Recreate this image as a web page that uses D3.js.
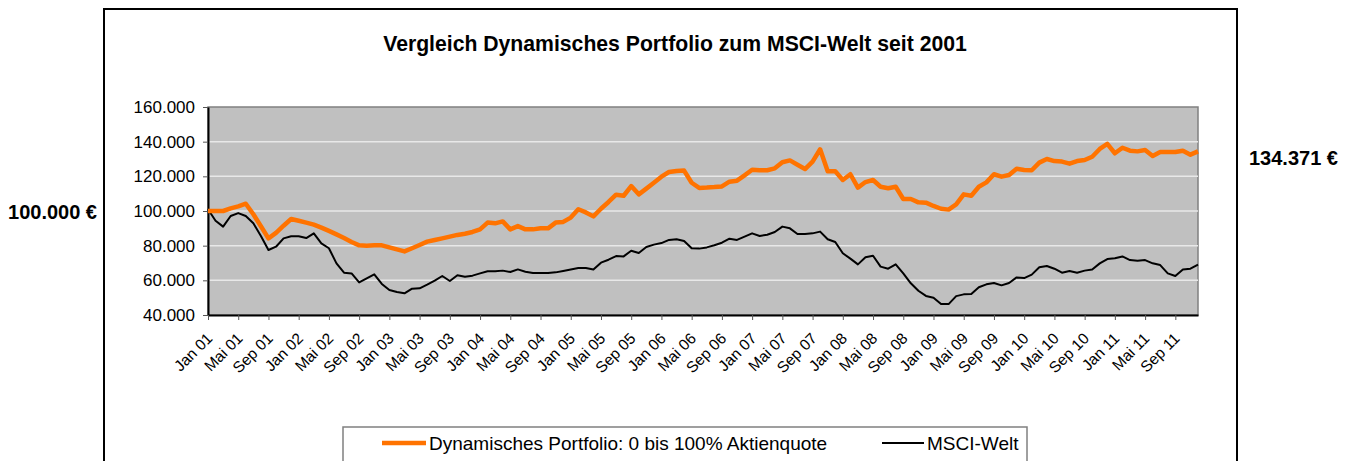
<!DOCTYPE html>
<html>
<head>
<meta charset="utf-8">
<script src="https://cdn.jsdelivr.net/npm/d3@7"></script>
<style>
  body { margin: 0; background: #fff; }
  text { font-family: Arial, "Liberation Sans", sans-serif; }
</style>
</head>
<body>
<div id="chart"></div>
<script>
// monthly values Jan 2001 - Dec 2011 (in thousand €)
var dynPortfolio = [
  100.0, 100.0, 100.0, 101.5, 102.7, 104.2, 98.1, 91.2, 84.2, 87.4,
  91.5, 95.4, 94.4, 93.3, 92.1, 90.4, 88.5, 86.5, 84.4, 82.1,
  80.2, 80.0, 80.2, 80.2, 79.0, 77.9, 76.7, 78.5, 80.4, 82.3,
  83.3, 84.2, 85.2, 86.2, 86.9, 87.9, 89.4, 93.3, 92.9, 94.0,
  89.4, 91.3, 89.4, 89.4, 90.0, 90.0, 93.3, 93.7, 96.2, 101.0,
  99.2, 96.9, 101.3, 105.2, 109.4, 108.8, 114.4, 109.6, 112.9, 116.3,
  119.8, 122.5, 123.1, 123.3, 116.3, 113.3, 113.5, 113.8, 114.2, 116.9,
  117.5, 120.6, 123.8, 123.5, 123.5, 124.6, 128.1, 129.2, 126.7, 124.2,
  128.5, 135.6, 122.9, 122.9, 117.9, 121.2, 113.5, 116.7, 117.9, 114.0,
  113.1, 114.0, 106.9, 106.9, 105.0, 104.8, 102.9, 101.3, 100.8, 103.8,
  109.6, 108.8, 114.0, 116.5, 121.2, 119.8, 120.8, 124.4, 123.7, 123.5,
  127.9, 130.0, 128.8, 128.5, 127.3, 128.8, 129.4, 131.3, 135.8, 138.7,
  133.3, 136.5, 134.8, 134.4, 135.2, 131.7, 134.0, 134.0, 134.0, 134.8,
  132.5, 134.371
];

var msciWelt = [
  101.0, 94.4, 91.0, 97.1, 98.8, 97.1, 92.9, 85.6, 77.5, 79.4,
  84.2, 85.4, 85.4, 84.4, 87.1, 81.3, 78.5, 69.8, 64.4, 64.0,
  58.8, 61.2, 63.5, 57.9, 54.4, 53.3, 52.5, 55.2, 55.4, 57.5,
  59.8, 62.5, 59.6, 62.9, 62.1, 62.7, 64.0, 65.2, 65.2, 65.6,
  64.8, 66.3, 65.0, 64.2, 64.2, 64.2, 64.6, 65.4, 66.3, 67.1,
  67.1, 66.2, 70.2, 71.9, 74.0, 73.8, 77.1, 75.8, 79.2, 80.6,
  81.5, 83.3, 83.7, 82.7, 78.5, 78.3, 79.0, 80.2, 81.7, 84.0,
  83.3, 85.2, 87.1, 85.6, 86.3, 87.9, 91.0, 90.0, 86.7, 86.7,
  87.1, 88.1, 83.7, 82.1, 75.6, 72.5, 69.2, 73.3, 74.2, 67.9,
  66.7, 69.2, 64.0, 58.3, 54.0, 51.0, 50.0, 46.3, 46.3, 50.9,
  51.9, 52.1, 56.0, 57.7, 58.5, 57.1, 58.5, 61.7, 61.3, 63.3,
  67.5, 68.3, 66.7, 64.4, 65.4, 64.4, 65.6, 66.3, 69.8, 72.3,
  72.7, 73.8, 71.7, 71.3, 71.7, 69.8, 68.8, 64.0, 62.5, 66.3,
  66.7, 69.0
];

var tickLabels = [
  "Jan 01", "Mai 01", "Sep 01", "Jan 02", "Mai 02", "Sep 02", "Jan 03", "Mai 03", "Sep 03",
  "Jan 04", "Mai 04", "Sep 04", "Jan 05", "Mai 05", "Sep 05", "Jan 06", "Mai 06", "Sep 06",
  "Jan 07", "Mai 07", "Sep 07", "Jan 08", "Mai 08", "Sep 08", "Jan 09", "Mai 09", "Sep 09",
  "Jan 10", "Mai 10", "Sep 10", "Jan 11", "Mai 11", "Sep 11"
];

var yTicks = [40000, 60000, 80000, 100000, 120000, 140000, 160000];
var seriesNames = ["Dynamisches Portfolio: 0 bis 100% Aktienquote", "MSCI-Welt"];
var startValue = 100000;
var endValue = 134371;

// one category per month, a tick every 4th month
var categories = d3.range(dynPortfolio.length);

function createChart() {
  var width = 1353, height = 461;
  var plot = {left: 208, right: 1198, top: 107, bottom: 315};

  var de = d3.formatLocale({decimal: ",", thousands: ".", grouping: [3], currency: ["", " €"]});
  var fmt = de.format(",.0f");

  var svg = d3.select("#chart").append("svg")
    .attr("width", width)
    .attr("height", height);

  // chart frame
  svg.append("rect")
    .attr("x", 104).attr("y", 9)
    .attr("width", 1133).attr("height", 480)
    .attr("fill", "#fff")
    .attr("stroke", "#000")
    .attr("stroke-width", 2);

  svg.append("text")
    .attr("x", 675).attr("y", 51)
    .attr("text-anchor", "middle")
    .attr("font-size", "21.2px")
    .attr("font-weight", "bold")
    .text("Vergleich Dynamisches Portfolio zum MSCI-Welt seit 2001");

  var x = d3.scalePoint()
    .domain(categories)
    .range([plot.left, plot.right]);

  var y = d3.scaleLinear()
    .domain([40000, 160000])
    .range([plot.bottom, plot.top]);

  svg.append("rect")
    .attr("x", plot.left).attr("y", plot.top)
    .attr("width", plot.right - plot.left)
    .attr("height", plot.bottom - plot.top)
    .attr("fill", "#c0c0c0")
    .attr("stroke", "#808080")
    .attr("stroke-width", 1.5);

  // gridlines
  svg.append("g")
    .selectAll("line")
    .data(yTicks.slice(1, -1))
    .enter()
    .append("line")
    .attr("x1", plot.left).attr("x2", plot.right)
    .attr("y1", d => y(d)).attr("y2", d => y(d))
    .attr("stroke", "#e8e8e8")
    .attr("stroke-width", 1.5);

  // y axis
  var yAxis = svg.append("g")
    .attr("transform", `translate(${plot.left},0)`)
    .call(d3.axisLeft(y).tickValues(yTicks).tickFormat(fmt).tickSize(5).tickPadding(8).tickSizeOuter(0));
  yAxis.select(".domain").attr("stroke", "#000").attr("stroke-width", 2);
  yAxis.selectAll(".tick line").attr("stroke", "#555");
  yAxis.selectAll("text")
    .attr("font-size", "17px")
    .attr("font-family", "Arial, 'Liberation Sans', sans-serif")
    .attr("fill", "#000");

  // x axis
  var tickCats = categories.filter(d => d % 4 === 0);
  var xAxis = svg.append("g")
    .attr("transform", `translate(0,${plot.bottom})`)
    .call(d3.axisBottom(x).tickValues(tickCats).tickFormat((d, i) => tickLabels[i]).tickSize(5).tickSizeOuter(0));
  xAxis.select(".domain").attr("stroke", "#000").attr("stroke-width", 2);
  xAxis.selectAll(".tick line").attr("stroke", "#555");
  xAxis.selectAll("text")
    .attr("font-size", "15.5px")
    .attr("font-family", "Arial, 'Liberation Sans', sans-serif")
    .attr("fill", "#000")
    .attr("text-anchor", "end")
    .attr("transform", "translate(-5,14.5) rotate(-45)")
    .attr("y", 0).attr("dy", "0.9em");

  var line = d3.line()
    .x((d, i) => x(categories[i]))
    .y(d => y(d * 1000));

  svg.append("path")
    .datum(msciWelt)
    .attr("fill", "none")
    .attr("stroke", "#000")
    .attr("stroke-width", 2)
    .attr("stroke-linejoin", "round")
    .attr("d", line);

  svg.append("path")
    .datum(dynPortfolio)
    .attr("fill", "none")
    .attr("stroke", "#ff7300")
    .attr("stroke-width", 4.5)
    .attr("stroke-linejoin", "round")
    .attr("d", line);

  // start / end value labels
  svg.append("text")
    .attr("x", 97).attr("y", y(startValue) + 8)
    .attr("text-anchor", "end")
    .attr("font-size", "20px")
    .attr("font-weight", "bold")
    .text(de.format("$,.0f")(startValue));

  svg.append("text")
    .attr("x", 1249).attr("y", y(endValue) + 14)
    .attr("font-size", "20px")
    .attr("font-weight", "bold")
    .text(de.format("$,.0f")(endValue));

  // legend
  var legend = svg.append("g");
  legend.append("rect")
    .attr("x", 343).attr("y", 427)
    .attr("width", 684).attr("height", 40)
    .attr("fill", "#fff")
    .attr("stroke", "#808080")
    .attr("stroke-width", 1.5);

  var items = [
    {name: seriesNames[0], color: "#ff7300", w: 4.5, x1: 382, x2: 426},
    {name: seriesNames[1], color: "#000", w: 2, x1: 882, x2: 924}
  ];
  items.forEach(function(it) {
    legend.append("line")
      .attr("x1", it.x1).attr("x2", it.x2)
      .attr("y1", 443).attr("y2", 443)
      .attr("stroke", it.color)
      .attr("stroke-width", it.w);
    legend.append("text")
      .attr("x", it.x2 + 3).attr("y", 450)
      .attr("font-size", "19px")
      .text(it.name);
  });
}

function init() {
  createChart();
}

window.onload = init;
</script>
</body>
</html>
